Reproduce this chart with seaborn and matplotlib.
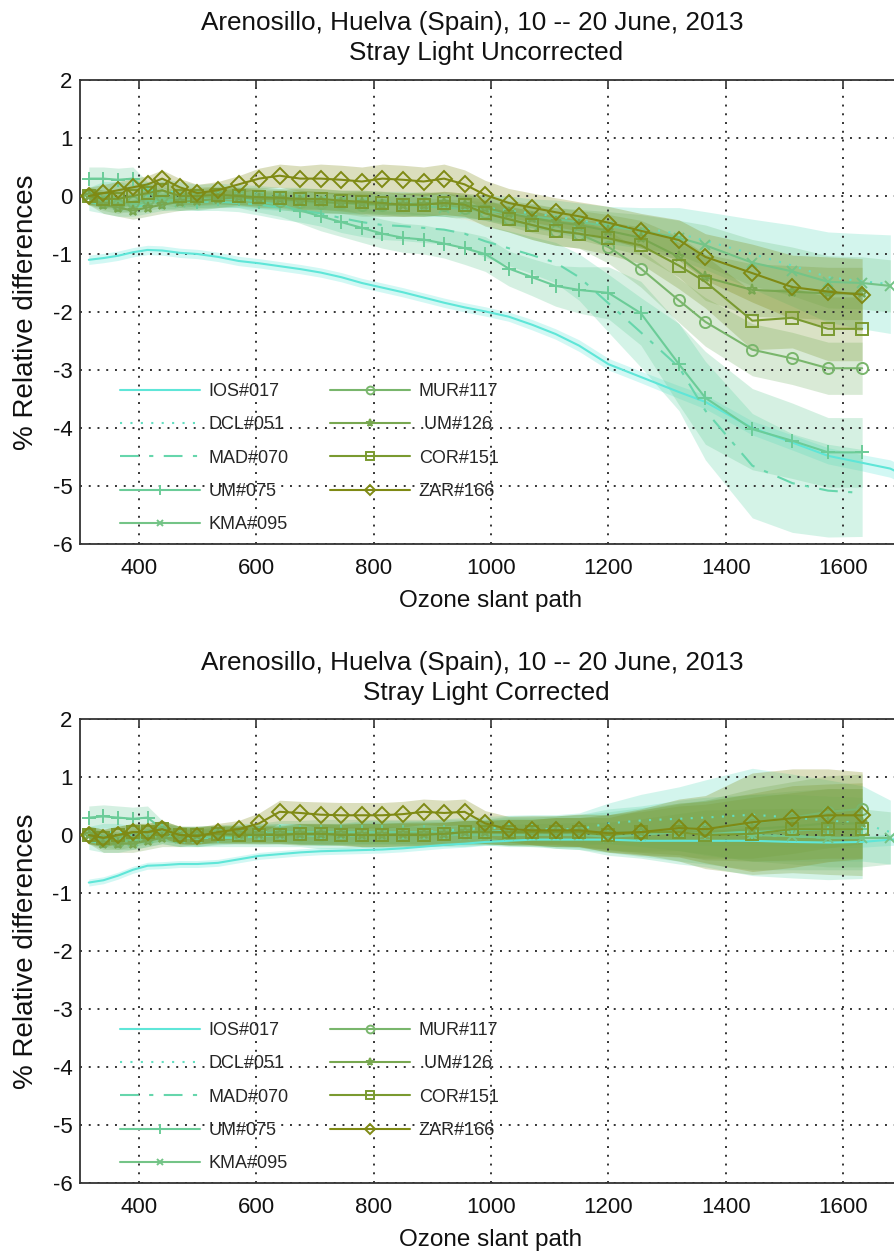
import numpy as np
import pandas as pd
import matplotlib
matplotlib.use("Agg")
import matplotlib.pyplot as plt
import seaborn as sns

N = np.nan

# Ozone slant path bins (DU) shared by every instrument
ozone_path = [315, 340, 365, 390, 415, 440, 470, 500, 535, 570, 605, 640, 675, 710,
              745, 780, 815, 850, 885, 920, 955, 990, 1030, 1070, 1110, 1150, 1200,
              1255, 1320, 1365, 1445, 1513, 1574, 1632, 1680, 1700]

labels = ["IOS#017", "DCL#051", "MAD#070", "UM#075", "KMA#095",
          "MUR#117", " UM#126", "COR#151", "ZAR#166"]

# ---- Stray light uncorrected: mean % relative difference ----
ios_u = [-1.10, -1.07, -1.03, -0.97, -0.93, -0.94, -0.98, -1.00, -1.05, -1.12, -1.16, -1.21, -1.26, -1.32,
         -1.40, -1.50, -1.58, -1.66, -1.75, -1.84, -1.92, -1.99, -2.08, -2.22, -2.38, -2.58, -2.90,
         -3.12, -3.38, -3.55, -4.00, -4.25, -4.48, -4.60, -4.70, -4.80]
dcl_u = [0.00, 0.05, 0.05, 0.00, 0.05, 0.10, 0.05, 0.00, 0.02, 0.00, -0.02, -0.05, -0.05, -0.08,
         -0.10, -0.10, -0.12, -0.12, -0.15, -0.15, -0.18, -0.20, -0.25, -0.30, -0.35, -0.42, -0.50,
         -0.55, -0.65, -0.77, -1.00, -1.20, -1.40, -1.47, -1.52, N]
mad_u = [-0.10, -0.15, -0.20, -0.20, -0.15, -0.10, -0.10, -0.10, -0.10, -0.12, -0.15, -0.20, -0.25, -0.30,
         -0.38, -0.45, -0.50, -0.52, -0.55, -0.58, -0.65, -0.78, -0.90, -1.02, -1.15, -1.40, -1.85,
         -2.35, -2.95, -3.70, -4.65, -4.95, -5.08, -5.12, N, N]
um075_u = [0.30, 0.30, 0.28, 0.30, 0.10, -0.10, -0.05, -0.10, -0.05, -0.05, -0.10, -0.15, -0.25, -0.35,
           -0.45, -0.55, -0.65, -0.72, -0.75, -0.82, -0.90, -1.00, -1.25, -1.40, -1.55, -1.62, -1.67,
           -2.02, -2.90, -3.48, -4.02, -4.22, -4.42, -4.42, N, N]
kma_u = [0.00, -0.05, -0.10, -0.15, -0.10, -0.05, -0.10, -0.05, -0.05, 0.00, 0.00, -0.02, -0.05, -0.08,
         -0.10, -0.12, -0.15, -0.15, -0.18, -0.20, -0.22, -0.25, -0.30, -0.35, -0.40, -0.45, -0.52,
         -0.60, -0.72, -0.85, -1.15, -1.30, -1.48, -1.50, -1.55, N]
mur_u = [0.00, -0.10, -0.15, -0.10, -0.05, 0.00, -0.05, -0.02, 0.00, 0.00, -0.05, -0.08, -0.10, -0.12,
         -0.12, -0.15, -0.15, -0.15, -0.12, -0.15, -0.20, -0.28, -0.40, -0.50, -0.60, -0.65, -0.88,
         -1.25, -1.80, -2.17, -2.65, -2.80, -2.97, -2.97, N, N]
um126_u = [0.00, -0.15, -0.20, -0.25, -0.20, -0.15, -0.10, -0.08, -0.05, -0.02, -0.05, -0.05, -0.08, -0.10,
           -0.12, -0.12, -0.15, -0.15, -0.15, -0.12, -0.15, -0.20, -0.30, -0.38, -0.45, -0.50, -0.60,
           -0.72, -1.05, -1.40, -1.62, -1.65, -1.68, -1.68, N, N]
cor_u = [0.00, -0.05, -0.05, 0.00, 0.05, 0.10, 0.00, 0.00, 0.02, 0.00, -0.02, -0.03, -0.05, -0.05,
         -0.08, -0.10, -0.12, -0.15, -0.15, -0.12, -0.15, -0.30, -0.40, -0.50, -0.60, -0.65, -0.73,
         -0.85, -1.20, -1.48, -2.15, -2.10, -2.29, -2.29, N, N]
zar_u = [0.00, 0.05, 0.10, 0.15, 0.20, 0.30, 0.15, 0.05, 0.10, 0.20, 0.30, 0.35, 0.30, 0.30,
         0.28, 0.25, 0.30, 0.28, 0.25, 0.30, 0.20, 0.02, -0.12, -0.20, -0.28, -0.35, -0.46,
         -0.60, -0.76, -1.05, -1.33, -1.57, -1.65, -1.70, N, N]

# ---- Stray light uncorrected: spread (half width of shaded band) ----
ios_u_sd = [0.08, 0.08, 0.08, 0.08, 0.08, 0.08, 0.08, 0.08, 0.08, 0.08, 0.08, 0.08, 0.08, 0.08,
            0.08, 0.08, 0.08, 0.08, 0.08, 0.08, 0.08, 0.08, 0.08, 0.09, 0.09, 0.10, 0.10,
            0.10, 0.11, 0.12, 0.12, 0.13, 0.14, 0.14, 0.15, 0.15]
dcl_u_sd = [0.15, 0.20, 0.20, 0.20, 0.20, 0.20, 0.20, 0.20, 0.20, 0.20, 0.20, 0.20, 0.20, 0.20,
            0.20, 0.20, 0.20, 0.20, 0.20, 0.20, 0.20, 0.22, 0.25, 0.25, 0.28, 0.30, 0.32,
            0.35, 0.45, 0.50, 0.60, 0.70, 0.78, 0.82, 0.85, N]
mad_u_sd = [0.15, 0.15, 0.15, 0.15, 0.15, 0.15, 0.15, 0.15, 0.15, 0.15, 0.18, 0.20, 0.20, 0.22,
            0.25, 0.25, 0.25, 0.25, 0.25, 0.25, 0.25, 0.28, 0.30, 0.32, 0.35, 0.40, 0.50,
            0.60, 0.75, 0.85, 0.90, 0.85, 0.80, 0.75, N, N]
um075_u_sd = [0.20, 0.20, 0.20, 0.20, 0.15, 0.15, 0.15, 0.15, 0.15, 0.15, 0.18, 0.20, 0.22, 0.25,
              0.25, 0.25, 0.25, 0.25, 0.25, 0.25, 0.28, 0.30, 0.30, 0.32, 0.35, 0.40, 0.45,
              0.55, 0.70, 0.80, 0.70, 0.65, 0.60, 0.60, N, N]
kma_u_sd = [0.15, 0.15, 0.15, 0.15, 0.15, 0.15, 0.15, 0.15, 0.15, 0.15, 0.15, 0.15, 0.15, 0.15,
            0.15, 0.15, 0.15, 0.15, 0.15, 0.15, 0.15, 0.15, 0.18, 0.20, 0.20, 0.22, 0.25,
            0.28, 0.30, 0.35, 0.40, 0.42, 0.45, 0.45, 0.45, N]
mur_u_sd = [0.15, 0.15, 0.15, 0.15, 0.15, 0.15, 0.15, 0.15, 0.15, 0.15, 0.15, 0.15, 0.18, 0.18,
            0.18, 0.20, 0.20, 0.20, 0.20, 0.20, 0.20, 0.22, 0.22, 0.25, 0.25, 0.25, 0.28,
            0.32, 0.38, 0.42, 0.45, 0.45, 0.45, 0.45, N, N]
um126_u_sd = [0.15, 0.15, 0.15, 0.15, 0.15, 0.15, 0.15, 0.15, 0.15, 0.15, 0.15, 0.15, 0.18, 0.18,
              0.18, 0.20, 0.20, 0.20, 0.20, 0.20, 0.20, 0.22, 0.22, 0.25, 0.25, 0.25, 0.28,
              0.30, 0.35, 0.40, 0.45, 0.45, 0.45, 0.45, N, N]
cor_u_sd = [0.15, 0.15, 0.15, 0.15, 0.15, 0.15, 0.15, 0.15, 0.15, 0.15, 0.15, 0.15, 0.18, 0.18,
            0.18, 0.20, 0.20, 0.20, 0.20, 0.20, 0.20, 0.22, 0.22, 0.25, 0.25, 0.25, 0.28,
            0.32, 0.40, 0.45, 0.50, 0.52, 0.55, 0.55, N, N]
zar_u_sd = [0.15, 0.15, 0.15, 0.15, 0.15, 0.15, 0.15, 0.15, 0.15, 0.15, 0.18, 0.20, 0.22, 0.25,
            0.25, 0.25, 0.25, 0.25, 0.25, 0.25, 0.25, 0.25, 0.25, 0.25, 0.25, 0.25, 0.28,
            0.30, 0.35, 0.40, 0.50, 0.55, 0.60, 0.62, N, N]

# ---- Stray light corrected: mean % relative difference ----
ios_c = [-0.82, -0.78, -0.70, -0.60, -0.53, -0.52, -0.50, -0.50, -0.48, -0.42, -0.36, -0.33, -0.30, -0.28,
         -0.27, -0.26, -0.25, -0.23, -0.20, -0.17, -0.15, -0.12, -0.10, -0.08, -0.08, -0.08, -0.08,
         -0.10, -0.10, -0.10, -0.10, -0.12, -0.13, -0.12, -0.08, -0.07]
dcl_c = [0.00, 0.05, 0.05, 0.00, 0.00, 0.05, 0.00, 0.00, 0.02, 0.05, 0.05, 0.05, 0.02, 0.00,
         0.02, 0.05, 0.05, 0.05, 0.05, 0.08, 0.10, 0.12, 0.12, 0.10, 0.10, 0.10, 0.20,
         0.25, 0.28, 0.30, 0.35, 0.30, 0.25, 0.20, 0.05, N]
mad_c = [-0.10, -0.15, -0.15, -0.10, -0.05, 0.00, -0.05, -0.05, -0.05, -0.05, -0.02, 0.00, 0.00, -0.02,
         -0.02, 0.00, 0.00, 0.00, 0.02, 0.02, 0.02, 0.05, 0.05, 0.05, 0.05, 0.05, 0.05,
         0.05, 0.05, 0.05, 0.00, -0.02, -0.05, -0.05, N, N]
um075_c = [0.30, 0.32, 0.30, 0.28, 0.30, 0.10, 0.00, -0.05, -0.02, 0.00, 0.02, 0.05, 0.05, 0.05,
           0.05, 0.05, 0.05, 0.05, 0.05, 0.05, 0.05, 0.05, 0.08, 0.08, 0.05, 0.05, 0.05,
           0.05, 0.05, 0.05, 0.05, 0.08, 0.10, 0.10, N, N]
kma_c = [0.00, -0.05, -0.10, -0.10, -0.05, 0.00, -0.05, -0.05, 0.00, 0.00, 0.02, 0.00, 0.00, 0.00,
         0.00, 0.00, 0.00, 0.00, 0.00, 0.00, 0.00, 0.00, 0.00, 0.00, 0.00, 0.00, -0.03,
         0.00, 0.05, 0.05, 0.00, -0.02, -0.05, -0.05, -0.05, N]
mur_c = [0.00, -0.10, -0.10, -0.05, 0.00, 0.05, 0.00, 0.00, 0.02, 0.02, 0.00, 0.00, 0.00, 0.00,
         0.00, 0.00, 0.00, 0.02, 0.02, 0.02, 0.05, 0.05, 0.05, 0.05, 0.05, 0.05, 0.05,
         0.05, 0.08, 0.10, 0.20, 0.30, 0.40, 0.45, N, N]
um126_c = [0.00, -0.15, -0.15, -0.15, -0.10, -0.05, -0.05, 0.00, 0.00, 0.02, 0.02, 0.02, 0.02, 0.02,
           0.02, 0.00, 0.00, 0.02, 0.02, 0.02, 0.05, 0.05, 0.05, 0.05, 0.05, 0.05, 0.05,
           0.05, 0.08, 0.05, 0.10, 0.15, 0.20, 0.20, N, N]
cor_c = [0.00, -0.05, 0.00, 0.05, 0.05, 0.10, 0.00, 0.00, 0.02, 0.00, 0.00, 0.00, 0.02, 0.02,
         0.00, 0.00, 0.00, 0.00, 0.00, 0.02, 0.05, 0.05, 0.05, 0.05, 0.05, 0.05, 0.00,
         0.05, 0.05, 0.00, 0.02, 0.10, 0.10, 0.10, N, N]
zar_c = [0.00, -0.05, 0.00, 0.05, 0.05, 0.10, 0.00, -0.02, 0.05, 0.10, 0.20, 0.40, 0.38, 0.35,
         0.34, 0.34, 0.34, 0.36, 0.40, 0.38, 0.40, 0.20, 0.10, 0.08, 0.08, 0.08, 0.03,
         0.05, 0.12, 0.10, 0.22, 0.29, 0.34, 0.34, N, N]

# ---- Stray light corrected: spread ----
ios_c_sd = [0.06, 0.06, 0.06, 0.06, 0.06, 0.06, 0.06, 0.06, 0.06, 0.06, 0.06, 0.06, 0.06, 0.06,
            0.06, 0.06, 0.06, 0.06, 0.06, 0.06, 0.06, 0.06, 0.06, 0.06, 0.06, 0.06, 0.07,
            0.07, 0.07, 0.08, 0.08, 0.08, 0.09, 0.09, 0.10, 0.10]
dcl_c_sd = [0.15, 0.15, 0.15, 0.15, 0.15, 0.15, 0.15, 0.15, 0.15, 0.15, 0.15, 0.15, 0.18, 0.18,
            0.18, 0.20, 0.20, 0.20, 0.20, 0.20, 0.20, 0.20, 0.22, 0.25, 0.25, 0.28, 0.35,
            0.45, 0.55, 0.65, 0.80, 0.75, 0.70, 0.65, 0.55, N]
mad_c_sd = [0.15, 0.15, 0.15, 0.15, 0.15, 0.15, 0.15, 0.15, 0.15, 0.15, 0.18, 0.20, 0.20, 0.22,
            0.22, 0.22, 0.22, 0.22, 0.22, 0.22, 0.22, 0.22, 0.25, 0.25, 0.28, 0.30, 0.40,
            0.45, 0.55, 0.60, 0.70, 0.72, 0.72, 0.70, N, N]
um075_c_sd = [0.20, 0.20, 0.20, 0.20, 0.20, 0.15, 0.15, 0.15, 0.15, 0.15, 0.18, 0.20, 0.20, 0.22,
              0.22, 0.22, 0.22, 0.22, 0.22, 0.22, 0.22, 0.22, 0.25, 0.25, 0.28, 0.30, 0.35,
              0.42, 0.50, 0.55, 0.65, 0.68, 0.70, 0.70, N, N]
kma_c_sd = [0.15, 0.15, 0.15, 0.15, 0.15, 0.15, 0.15, 0.15, 0.15, 0.15, 0.15, 0.15, 0.15, 0.15,
            0.15, 0.15, 0.15, 0.15, 0.15, 0.15, 0.15, 0.15, 0.18, 0.20, 0.20, 0.22, 0.25,
            0.28, 0.32, 0.38, 0.45, 0.48, 0.50, 0.50, 0.45, N]
mur_c_sd = [0.15, 0.15, 0.15, 0.15, 0.15, 0.15, 0.15, 0.15, 0.15, 0.15, 0.15, 0.15, 0.18, 0.18,
            0.18, 0.20, 0.20, 0.20, 0.20, 0.20, 0.20, 0.20, 0.22, 0.22, 0.25, 0.25, 0.30,
            0.38, 0.45, 0.50, 0.60, 0.62, 0.62, 0.60, N, N]
um126_c_sd = [0.15, 0.15, 0.15, 0.15, 0.15, 0.15, 0.15, 0.15, 0.15, 0.15, 0.15, 0.15, 0.18, 0.18,
              0.18, 0.20, 0.20, 0.20, 0.20, 0.20, 0.20, 0.20, 0.22, 0.22, 0.25, 0.25, 0.30,
              0.35, 0.42, 0.48, 0.55, 0.58, 0.60, 0.60, N, N]
cor_c_sd = [0.15, 0.15, 0.15, 0.15, 0.15, 0.15, 0.15, 0.15, 0.15, 0.15, 0.15, 0.15, 0.18, 0.18,
            0.18, 0.20, 0.20, 0.20, 0.20, 0.20, 0.20, 0.20, 0.22, 0.22, 0.25, 0.25, 0.30,
            0.38, 0.50, 0.58, 0.70, 0.75, 0.78, 0.80, N, N]
zar_c_sd = [0.15, 0.15, 0.15, 0.15, 0.15, 0.15, 0.15, 0.15, 0.15, 0.15, 0.18, 0.20, 0.20, 0.22,
            0.22, 0.22, 0.22, 0.22, 0.22, 0.22, 0.22, 0.22, 0.22, 0.25, 0.25, 0.28, 0.32,
            0.40, 0.50, 0.58, 0.85, 0.85, 0.80, 0.75, N, N]

uncorrected = [ios_u, dcl_u, mad_u, um075_u, kma_u, mur_u, um126_u, cor_u, zar_u]
uncorrected_sd = [ios_u_sd, dcl_u_sd, mad_u_sd, um075_u_sd, kma_u_sd, mur_u_sd, um126_u_sd, cor_u_sd, zar_u_sd]
corrected = [ios_c, dcl_c, mad_c, um075_c, kma_c, mur_c, um126_c, cor_c, zar_c]
corrected_sd = [ios_c_sd, dcl_c_sd, mad_c_sd, um075_c_sd, kma_c_sd, mur_c_sd, um126_c_sd, cor_c_sd, zar_c_sd]

# ---- styling ----
colors = ["#5FE6D8", "#62DEC0", "#66D6AC", "#6BCC98", "#74C487",
          "#79B66C", "#78A750", "#7A9A30", "#7F8A14"]
linestyles = ["-", (0, (1, 4)), (0, (9, 5, 2, 5)), "-", "-", "-", "-", "-", "-"]
markers = [None, None, None, "+", "x", "o", "*", "s", "D"]
msizes = [0, 0, 0, 10, 7, 8, 8, 8, 8]

sns.set_theme(style="white")
plt.rcParams["font.family"] = ["Liberation Sans", "DejaVu Sans"]
plt.rcParams["axes.unicode_minus"] = False

W, H = 895, 1251
fig = plt.figure(figsize=(W / 100, H / 100), dpi=100)

ax_left, ax_w, ax_h = 80 / W, 1400 * 0.5872 / W, 464 / H
panels = [
    (fig.add_axes([ax_left, 1 - 544 / H, ax_w, ax_h]), uncorrected, uncorrected_sd,
     "Stray Light Uncorrected", 23),
    (fig.add_axes([ax_left, 1 - 1183 / H, ax_w, ax_h]), corrected, corrected_sd,
     "Stray Light Corrected", 663),
]

x = np.asarray(ozone_path, dtype=float)

for ax, means, spreads, subtitle, title_y in panels:
    for i, (m, s) in enumerate(zip(means, spreads)):
        m = np.asarray(m, dtype=float)
        s = np.asarray(s, dtype=float)
        ok = ~np.isnan(m)
        ax.fill_between(x[ok], (m - s)[ok], (m + s)[ok], color=colors[i],
                        alpha=0.28, linewidth=0, zorder=1)
    for i, m in enumerate(means):
        m = np.asarray(m, dtype=float)
        ok = ~np.isnan(m)
        df = pd.DataFrame({"path": x[ok], "diff": m[ok]})
        kw = dict(color=colors[i], linestyle=linestyles[i], linewidth=1.5, label=labels[i])
        if markers[i] is not None:
            kw.update(marker=markers[i], markersize=msizes[i], markerfacecolor="none",
                      markeredgecolor=colors[i], markeredgewidth=1.4)
        sns.lineplot(data=df, x="path", y="diff", ax=ax, sort=False, estimator=None,
                     zorder=3, **kw)

    ax.set_xlim(300, 1700)
    ax.set_ylim(-6, 2)
    ax.set_xticks([400, 600, 800, 1000, 1200, 1400, 1600])
    ax.set_yticks([-6, -5, -4, -3, -2, -1, 0, 1, 2])
    ax.grid(True, color="#333333", linestyle=(0, (1, 3.5)), linewidth=1.4)
    ax.set_axisbelow(False)
    for sp in ax.spines.values():
        sp.set_color("#333333")
        sp.set_linewidth(1.3)
    ax.tick_params(direction="in", length=5, width=1.2, color="#333333",
                   top=True, right=True, labelsize=16, labelcolor="#111111")
    ax.tick_params(axis="x", pad=10)
    ax.tick_params(axis="y", pad=5.5)
    ax.set_xlabel("Ozone slant path", fontsize=17.5, labelpad=8, color="#111111")
    ax.set_ylabel("% Relative differences", fontsize=20, labelpad=10, color="#111111")

    # two-line title, each line centred on its own
    fig.text(472 / W, 1 - title_y / H, "Arenosillo, Huelva (Spain), 10 -- 20 June, 2013",
             ha="center", va="center", fontsize=18.8, color="#111111")
    fig.text(486 / W, 1 - (title_y + 30) / H, subtitle,
             ha="center", va="center", fontsize=18.8, color="#111111")

    ax.legend(ncol=2, loc="upper left", bbox_to_anchor=(0.038, 0.366),
              frameon=False, fontsize=13, handlelength=4.4, handletextpad=0.5,
              columnspacing=2.3, labelspacing=0.9, numpoints=1, borderpad=0,
              markerscale=0.7)

fig.savefig("out.png", dpi=100)
